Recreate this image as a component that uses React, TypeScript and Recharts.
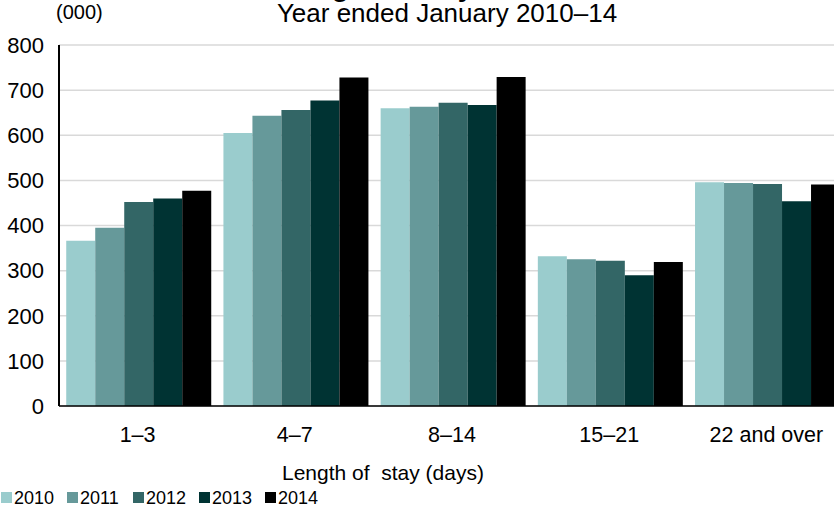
import React from 'react';
import { BarChart, Bar, XAxis, YAxis, CartesianGrid } from 'recharts';

const categories = ['1–3', '4–7', '8–14', '15–21', '22 and over'];
const years = ['2010', '2011', '2012', '2013', '2014'];
const v2010 = [366, 605, 660, 332, 496];
const v2011 = [395, 643, 663, 325, 494];
const v2012 = [452, 656, 672, 322, 492];
const v2013 = [460, 677, 667, 290, 454];
const v2014 = [477, 728, 729, 319, 491];
const yTicks = [0, 100, 200, 300, 400, 500, 600, 700, 800];
const colors = ['#9ACCCD', '#66999A', '#336666', '#003333', '#000000'];

const seriesValues = [v2010, v2011, v2012, v2013, v2014];
const data = categories.map((c, i) => {
  const row: Record<string, string | number> = { cat: c };
  years.forEach((y, k) => {
    row[y] = seriesValues[k][i];
  });
  return row;
});

const FONT = '"Liberation Sans", Arial, sans-serif';

export default function App() {
  return (
    <div
      style={{
        position: 'absolute',
        left: 0,
        top: 0,
        width: 834,
        height: 513,
        overflow: 'hidden',
        background: '#fff',
        fontFamily: FONT,
      }}
    >
      <BarChart
        width={845}
        height={513}
        data={data}
        margin={{ top: 45, right: 0, bottom: 0, left: 0 }}
        barCategoryGap="4.6%"
        barGap={0}
      >
        <CartesianGrid vertical={false} stroke="#D9D9D9" strokeWidth={1.5} />
        <XAxis
          dataKey="cat"
          height={107}
          axisLine={{ stroke: '#000', strokeWidth: 1.5 }}
          tickLine={false}
          tickMargin={15}
          tick={{ fill: '#000', fontSize: 21.5, fontFamily: FONT }}
          interval={0}
        />
        <YAxis
          width={59}
          domain={[0, 800]}
          ticks={yTicks}
          interval={0}
          axisLine={{ stroke: '#000', strokeWidth: 2 }}
          tickLine={false}
          tickMargin={9}
          tick={{ fill: '#000', fontSize: 22, fontFamily: FONT }}
        />
        {years.map((y, k) => (
          <Bar key={y} dataKey={y} fill={colors[k]} isAnimationActive={false} />
        ))}
      </BarChart>
      <svg
        width={834}
        height={513}
        style={{ position: 'absolute', left: 0, top: 0, pointerEvents: 'none', overflow: 'visible' }}
      >
        <text x={282} y={-4} fontSize={28} fontWeight="bold" fontFamily={FONT} fill="#000">
          Length of stay
        </text>
        <text x={56} y={19} fontSize={20} fontFamily={FONT} fill="#000">
          (000)
        </text>
        <text x={447} y={22} fontSize={26} fontFamily={FONT} fill="#000" textAnchor="middle">
          Year ended January 2010–14
        </text>
        <text x={383} y={480} fontSize={21} fontFamily={FONT} fill="#000" textAnchor="middle" xmlSpace="preserve">
          {'Length of  stay (days)'}
        </text>
        {years.map((y, k) => (
          <g key={y}>
            <rect x={1 + k * 66} y={492} width={11} height={11} fill={colors[k]} />
            <text x={14 + k * 66} y={504} fontSize={18} fontFamily={FONT} fill="#000">
              {y}
            </text>
          </g>
        ))}
      </svg>
    </div>
  );
}
